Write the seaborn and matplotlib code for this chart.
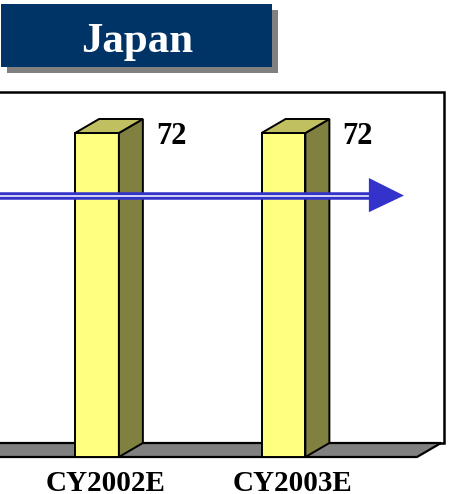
import matplotlib
matplotlib.use("Agg")
import matplotlib.pyplot as plt
import seaborn as sns
import pandas as pd
from matplotlib.patches import Polygon, Rectangle
from matplotlib.transforms import IdentityTransform

# ---- data ----
categories = ["CY2001E", "CY2002E", "CY2003E"]
values = [76, 72, 72]
value_labels = ["76", "72", "72"]
title = "Japan"

sns.set_style("white")
plt.rcParams["font.family"] = ["Liberation Serif", "DejaVu Serif"]

W, H = 451, 494
fig = plt.figure(figsize=(W / 100, H / 100), dpi=100)
fig.patch.set_facecolor("white")

# front plane of the 3D chart
ax = fig.add_axes([-141 / W, 37 / H, 558 / W, 351 / H])
ax.set_facecolor("none")

df = pd.DataFrame({"cat": categories, "val": values})
sns.barplot(data=df, x="cat", y="val", color="#FFFF80", saturation=1,
            width=0.235, edgecolor="black", linewidth=1.4, ax=ax, zorder=3)
ax.set_xlim(-0.276, 2.716)
ax.set_ylim(0, 78)

for s in ax.spines.values():
    s.set_visible(False)
ax.set_yticks([])
ax.set_xlabel("")
ax.set_ylabel("")

DX, DY = 24, 14
ident = IdentityTransform()

# wall and floor (display coordinates)
bb = ax.bbox
x0, y0, x1, y1 = bb.x0, bb.y0, bb.x1, bb.y1
wall = Rectangle((x0 + DX, y0 + DY), (x1 - x0) + 3, (y1 - y0), transform=ident,
                 fc="white", ec="black", lw=1.8, zorder=-3)
fig.add_artist(wall)
floor = Polygon([(x0, y0), (x1, y0), (x1 + DX, y0 + DY), (x0 + DX, y0 + DY)],
                closed=True, transform=ident, fc="#808080", ec="black", lw=1.6, zorder=-2)
fig.add_artist(floor)

# 3D sides and tops for the bars
for p in list(ax.patches):
    e = p.get_window_extent()
    bx0, by0, bx1, by1 = e.x0, e.y0, e.x1, e.y1
    side = Polygon([(bx1, by0), (bx1 + DX, by0 + DY), (bx1 + DX, by1 + DY), (bx1, by1)],
                   closed=True, transform=ident, fc="#808040", ec="black", lw=1.4,
                   clip_on=False, zorder=3)
    top = Polygon([(bx0, by1), (bx0 + DX, by1 + DY), (bx1 + DX, by1 + DY), (bx1, by1)],
                  closed=True, transform=ident, fc="#C0C060", ec="black", lw=1.4,
                  clip_on=False, zorder=3)
    ax.add_patch(side)
    ax.add_patch(top)
    p.set_clip_on(False)

ax.set_xlim(-0.276, 2.716)
ax.set_ylim(0, 78)

# value labels
for i, (v, lab) in enumerate(zip(values, value_labels)):
    ax.annotate(lab, xy=(i, v), xytext=(74, -11), textcoords="offset pixels",
                ha="center", va="baseline", fontsize=22, fontweight="bold",
                color="black", annotation_clip=False, zorder=7)

# trend arrow (double line)
arrow_y = 58.1
ax.plot([-0.276, 2.46], [arrow_y, arrow_y], color="#3333CC", lw=5.4,
        solid_capstyle="butt", zorder=5)
ax.plot([-0.276, 2.46], [arrow_y, arrow_y], color="white", lw=1.1,
        solid_capstyle="butt", zorder=6)
ax.add_patch(Polygon([(2.458, 62.0), (2.646, arrow_y), (2.458, 54.4)], closed=True,
                     fc="#3333CC", ec="none", zorder=6))

# category ticks / labels
ax.set_xticks([i + 0.048 for i in range(len(categories))])
ax.set_xticklabels(categories, fontsize=21, fontweight="bold")
ax.tick_params(axis="x", which="major", length=0, pad=9.5, colors="black")
ax.set_xticks([0.72, 1.72, 2.713], minor=True)
ax.tick_params(axis="x", which="minor", direction="in", length=4.5, width=1.1,
               color="black")

# title box
fig.add_artist(Rectangle((7 / W, (H - 73) / H), 271 / W, 63 / H,
                         transform=fig.transFigure, fc="#808080", ec="none", zorder=1))
fig.add_artist(Rectangle((1 / W, (H - 67) / H), 271 / W, 63 / H,
                         transform=fig.transFigure, fc="#003366", ec="none", zorder=2))
fig.text(137 / W, (H - 52) / H, title, ha="center", va="baseline", color="white",
         fontsize=31, fontweight="bold", zorder=3)

fig.savefig("out.png", dpi=100)
